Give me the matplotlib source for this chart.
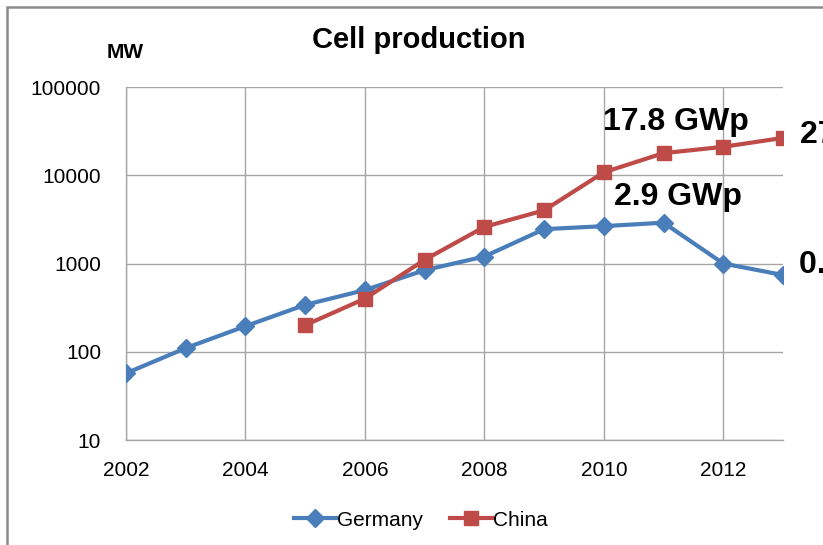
import numpy as np
import matplotlib.pyplot as plt
from matplotlib.patches import Rectangle

## Data
years_de = [2002, 2003, 2004, 2005, 2006, 2007, 2008, 2009, 2010, 2011, 2012, 2013]
germany = [57, 110, 195, 340, 500, 840, 1200, 2450, 2650, 2900, 1000, 740]
years_cn = [2005, 2006, 2007, 2008, 2009, 2010, 2011, 2012, 2013]
china = [200, 400, 1100, 2600, 4000, 10800, 17800, 21000, 26500]
x_ticks = [2002, 2004, 2006, 2008, 2010, 2012]
y_ticks = [10, 100, 1000, 10000, 100000]

blue = '#4A7EBB'
red = '#BE4B48'

plt.rcParams['font.family'] = ['Liberation Sans', 'DejaVu Sans']

fig = plt.figure(figsize=(8.23, 5.45), dpi=100)
ax = fig.add_axes([126 / 823, 105 / 545, (783 - 126) / 823, (440 - 87) / 545])

ax.plot(years_de, germany, color=blue, lw=3, marker='D', ms=9.5,
        mec=blue, mfc=blue, label='Germany', zorder=3)
ax.plot(years_cn, china, color=red, lw=3, marker='s', ms=10,
        mec=red, mfc=red, label='China', zorder=3)

ax.set_yscale('log')
ax.set_ylim(10, 100000)
ax.set_xlim(2002, 2013)
ax.set_yticks(y_ticks)
ax.set_yticklabels([str(v) for v in y_ticks])
ax.minorticks_off()
ax.set_xticks(x_ticks)
ax.set_xticklabels([str(v) for v in x_ticks])
ax.tick_params(length=0, labelsize=15, colors='black')
ax.tick_params(axis='y', pad=18)
ax.tick_params(axis='x', pad=15)
ax.grid(True, color='#A6A6A6', lw=1)
ax.set_axisbelow(True)
for s in ['top', 'right']:
    ax.spines[s].set_visible(False)
for s in ['left', 'bottom']:
    ax.spines[s].set_color('#A6A6A6')
    ax.spines[s].set_linewidth(1)

# Annotations (the two at the right run past the edge, as in the original crop)
ax.text(2011.2, 32600, '17.8 GWp', fontsize=23, fontweight='bold', ha='center', va='baseline')
ax.text(2011.25, 4600, '2.9 GWp', fontsize=23, fontweight='bold', ha='center', va='baseline')
ax.text(2013.29, 23200, '27 GWp', fontsize=23, fontweight='bold', ha='left', va='baseline', clip_on=False)
ax.text(2013.27, 780, '0.7 GWp', fontsize=23, fontweight='bold', ha='left', va='baseline', clip_on=False)

fig.text(419 / 823, 1 - 40 / 545, 'Cell production', fontsize=21, fontweight='bold',
         ha='center', va='center')
fig.text(125 / 823, 1 - 53 / 545, 'MW', fontsize=15, fontweight='bold', ha='center', va='center')

leg = fig.legend(loc='center', bbox_to_anchor=(421 / 823, 1 - 520 / 545), ncol=2,
                 frameon=False, fontsize=15, handlelength=2.0, handletextpad=0.05,
                 columnspacing=1.3)

# outer chart border (cut off at right and bottom)
fig.add_artist(Rectangle((7 / 823, -0.1), 1.2, 1 - 7 / 545 + 0.1, transform=fig.transFigure,
                         fill=False, edgecolor='#8C8C8C', lw=1.8))

fig.savefig('out.png', dpi=100)
